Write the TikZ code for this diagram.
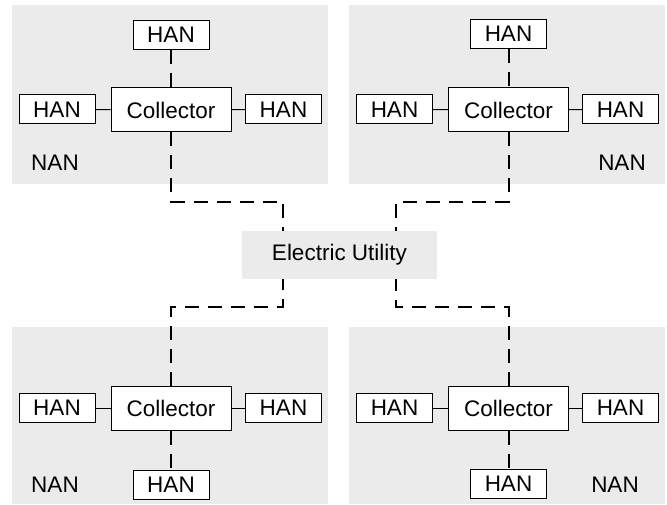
\documentclass[tikz,border=0pt]{standalone}
\usepackage{fontspec}
\setmainfont{Liberation Sans}
\usetikzlibrary{calc}
\definecolor{nangray}{HTML}{EBEBEB}
\tikzset{
  nanbg/.style={fill=nangray, draw=none},
  hanbox/.style={draw=black, line width=1pt, fill=white, minimum width=76pt, minimum height=29pt, inner sep=0pt, font=\fontsize{22.5}{25}\selectfont},
  collbox/.style={draw=black, line width=1pt, fill=white, minimum width=120pt, minimum height=44pt, inner sep=0pt, font=\fontsize{22.5}{25}\selectfont},
  eubox/.style={fill=nangray, draw=none, minimum width=195pt, minimum height=48pt, inner sep=0pt, font=\fontsize{22.5}{25}\selectfont},
  nanlabel/.style={inner sep=0pt, font=\fontsize{22.5}{25}\selectfont},
  dashlink/.style={draw=black, line width=2pt, dash pattern=on 14pt off 9pt},
  solidlink/.style={draw=black, line width=1pt}
}
\begin{document}
\begin{tikzpicture}[x=1pt, y=-1pt]
\useasboundingbox (0,0) rectangle (667,505);
% NAN backgrounds
\fill[nanbg] (12,5) rectangle (328,184);
\fill[nanbg] (349,5) rectangle (665,184);
\fill[nanbg] (12,327) rectangle (328,504);
\fill[nanbg] (349,327) rectangle (665,504);
% Electric utility
\node[eubox] (eu) at (339.5,255) {Electric Utility};
% Top-left
\node[collbox] (c1) at (171,110) {Collector};
\node[hanbox] (h1t) at (171,35) {HAN};
\node[hanbox] (h1l) at (57,109.5) {HAN};
\node[hanbox] (h1r) at (283.5,109.5) {HAN};
\node[nanlabel] (n1) at (55,163) {NAN};
% Top-right
\node[collbox] (c2) at (508.5,110) {Collector};
\node[hanbox] (h2t) at (508.5,34) {HAN};
\node[hanbox] (h2l) at (394.5,109.5) {HAN};
\node[hanbox] (h2r) at (620.5,109.5) {HAN};
\node[nanlabel] (n2) at (622,163) {NAN};
% Bottom-left
\node[collbox] (c3) at (171,408) {Collector};
\node[hanbox] (h3b) at (171,484.5) {HAN};
\node[hanbox] (h3l) at (57,408) {HAN};
\node[hanbox] (h3r) at (283.5,408) {HAN};
\node[nanlabel] (n3) at (55,485) {NAN};
% Bottom-right
\node[collbox] (c4) at (508.5,408) {Collector};
\node[hanbox] (h4b) at (508.5,484) {HAN};
\node[hanbox] (h4l) at (394.5,408) {HAN};
\node[hanbox] (h4r) at (620.5,408) {HAN};
\node[nanlabel] (n4) at (615,485) {NAN};
% Solid links
\draw[solidlink] (h1l) -- (c1);
\draw[solidlink] (c1) -- (h1r);
\draw[solidlink] (h2l) -- (c2);
\draw[solidlink] (c2) -- (h2r);
\draw[solidlink] (h3l) -- (c3);
\draw[solidlink] (c3) -- (h3r);
\draw[solidlink] (h4l) -- (c4);
\draw[solidlink] (c4) -- (h4r);
% Dashed links HAN-collector
\draw[dashlink] (h1t) -- (c1);
\draw[dashlink] (h2t) -- (c2);
\draw[dashlink] (c3) -- (h3b);
\draw[dashlink] (c4) -- (h4b);
% Corner coordinates
\coordinate (k1) at (171,202);
\coordinate (k2) at (508.5,202);
\coordinate (k3) at (171,307);
\coordinate (k4) at (508.5,307);
\coordinate (eunl) at ($(eu.north)+(-56.5,0)$);
\coordinate (eunr) at ($(eu.north)+(56.5,0)$);
\coordinate (eusl) at ($(eu.south)+(-56.5,0)$);
\coordinate (eusr) at ($(eu.south)+(56.5,0)$);
% Dashed links collector - utility
\draw[dashlink] (c1.south) -- (k1) -| (eunl);
\draw[dashlink] (c2.south) -- (k2) -| (eunr);
\draw[dashlink] (c3.north) -- (k3) -| (eusl);
\draw[dashlink] (c4.north) -- (k4) -| (eusr);
\end{tikzpicture}
\end{document}
